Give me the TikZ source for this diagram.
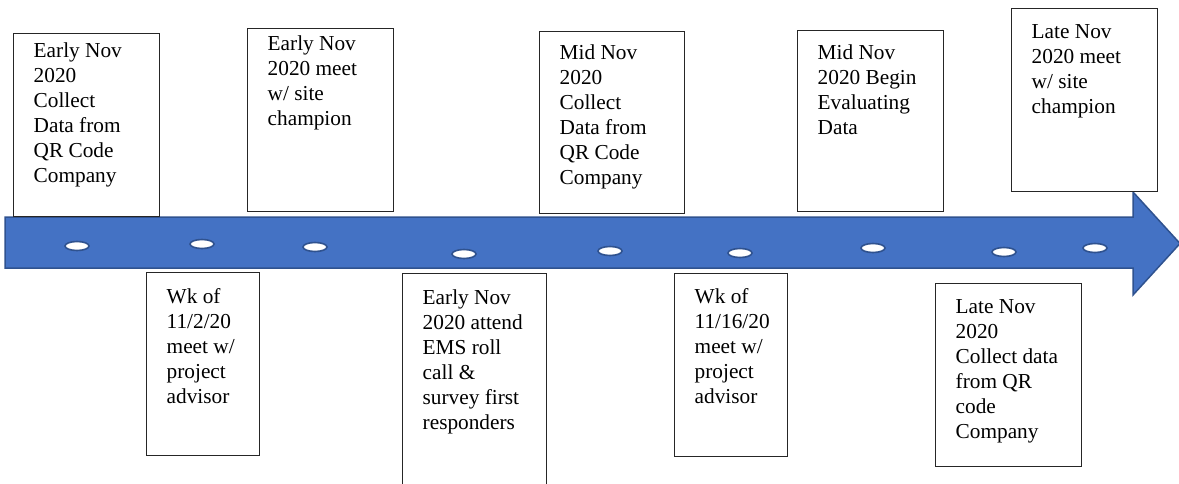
\documentclass[tikz,border=0pt]{standalone}
\usepackage{fontspec}
\setmainfont{Liberation Serif}
\usetikzlibrary{shapes.geometric}
\definecolor{arrfill}{HTML}{4472C4}
\definecolor{arrline}{HTML}{2F528F}
\definecolor{boxline}{HTML}{262626}
\tikzset{
  tlbox/.style={draw=boxline, line width=1.2pt, fill=white, rectangle, inner sep=0pt, anchor=north west},
  tltext/.style={inner sep=0pt, anchor=north west, align=left, font=\fontsize{21.3}{25}\selectfont, text=black},
  tldot/.style={ellipse, draw=arrline, fill=white, line width=1.6pt, minimum width=24pt, minimum height=9pt, inner sep=0pt},
  tlarrow/.style={fill=arrfill, draw=arrline, line width=1.5pt, line join=miter}
}
% #1 name, #2 x, #3 y, #4 w, #5 h, #6 baseline offset, #7 text
\newcommand{\tlbox}[7]{%
  \node[tlbox, minimum width=#4pt, minimum height=#5pt] (#1) at (#2,#3) {};
  \node[tltext] (#1t) at ([xshift=20.5pt,yshift={-(#6-15)*1pt}]#1.north west) {\rule{0pt}{15pt}#7};
}
\begin{document}
\begin{tikzpicture}[x=1pt,y=-1pt]
\useasboundingbox (0,0) rectangle (1179,483);
% main arrow
\draw[tlarrow] (5,217) -- (1133,217) -- (1133,192) -- (1180,243.5) -- (1133,295) -- (1133,268) -- (5,268) -- cycle;
% dots
\node[tldot] (d1) at (77,246) {};
\node[tldot] (d2) at (202,244) {};
\node[tldot] (d3) at (315,247) {};
\node[tldot] (d4) at (464,254) {};
\node[tldot] (d5) at (610,251) {};
\node[tldot] (d6) at (740,253) {};
\node[tldot] (d7) at (873,248) {};
\node[tldot] (d8) at (1004,252) {};
\node[tldot] (d9) at (1095,248) {};
% boxes
\tlbox{b1}{13}{33}{146}{183}{24}{Early Nov\\2020\\Collect\\Data from\\QR Code\\Company}
\tlbox{b2}{247}{28}{146}{183}{22}{Early Nov\\2020 meet\\w/ site\\champion}
\tlbox{b3}{146}{272}{113}{183}{31}{Wk of\\11/2/20\\meet w/\\project\\advisor}
\tlbox{b4}{402}{273}{144}{220}{31}{Early Nov\\2020 attend\\EMS roll\\call \&\\survey first\\responders}
\tlbox{b5}{539}{31}{145}{182}{28}{Mid Nov\\2020\\Collect\\Data from\\QR Code\\Company}
\tlbox{b6}{674}{273}{113}{183}{30}{Wk of\\11/16/20\\meet w/\\project\\advisor}
\tlbox{b7}{797}{30}{146}{181}{29}{Mid Nov\\2020 Begin\\Evaluating\\Data}
\tlbox{b8}{1011}{8}{146}{183}{30}{Late Nov\\2020 meet\\w/ site\\champion}
\tlbox{b9}{935}{283}{146}{183}{30}{Late Nov\\2020\\Collect data\\from QR\\code\\Company}
\end{tikzpicture}
\end{document}
